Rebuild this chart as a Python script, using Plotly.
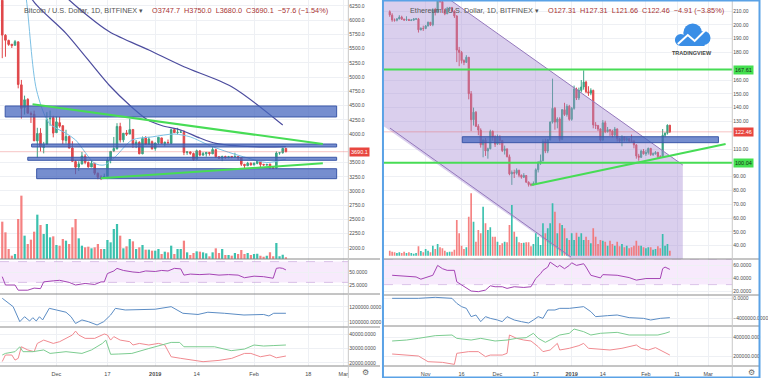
import plotly.graph_objects as go
import pandas as pd

# ======================= BTC (left chart) =======================
btc_start = "2018-11-14"
btc_open = [6351, 5736, 5645, 5578, 5559, 5620, 4864, 4465, 4611, 4360, 4347, 3880, 4016, 3765, 3822, 4269, 4289,
            4024, 4200, 4147, 3886, 3958, 3754, 3516, 3421, 3474, 3612, 3501, 3421, 3488, 3311, 3244, 3236, 3253, 3544,
            3706, 3742, 4133, 3898, 4020, 4000, 4081, 3819, 3855, 3653, 3932, 3822, 3866,
            3746, 3849, 3932, 3832, 3851, 3836, 4078, 4029, 4032, 4032, 3674, 3686, 3658, 3557, 3704, 3631, 3652, 3677,
            3652, 3725, 3600, 3575, 3605, 3584, 3607, 3599, 3604, 3584, 3468, 3443, 3485,
            3460, 3484, 3516, 3467, 3454, 3474, 3414, 3402, 3671, 3673, 3747.7]
btc_high = [6371, 5755, 5657, 5578, 5653, 5620, 4951, 4675, 4629, 4396, 4413, 4110, 4103, 3862, 4385, 4413, 4322,
            4309, 4301, 4147, 4075, 3969, 3874, 3542, 3522, 3685, 3647, 3518, 3534, 3488, 3325, 3276, 3305, 3597, 3701,
            3949, 4191, 4198, 4014, 4070, 4271, 4081, 3894, 3874, 3957, 3964, 3950, 3887,
            3851, 3948, 3935, 3866, 3904, 4093, 4092, 4109, 4071, 4068, 3700, 3694, 3675, 3727, 3721, 3685, 3684, 3683,
            3769, 3743, 3609, 3621, 3620, 3616, 3612, 3671, 3612, 3587, 3476, 3511, 3504,
            3502, 3523, 3517, 3476, 3478, 3474, 3427, 3695, 3679, 3760, 3750.0]
btc_low = [5333, 5358, 5550, 5512, 5559, 4803, 4272, 4343, 4365, 4195, 3881, 3585, 3696, 3661, 3822, 4145, 3942,
           4024, 4110, 3824, 3831, 3753, 3521, 3295, 3351, 3468, 3470, 3409, 3421, 3280, 3206, 3192, 3233, 3253, 3487,
           3687, 3728, 3850, 3855, 3966, 4000, 3757, 3753, 3645, 3646, 3815, 3808, 3726,
           3707, 3817, 3826, 3784, 3836, 3826, 4020, 3996, 4022, 3629, 3634, 3635, 3531, 3550, 3610, 3616, 3603, 3621,
           3652, 3582, 3570, 3524, 3566, 3576, 3575, 3596, 3544, 3439, 3401, 3441, 3447,
           3448, 3468, 3412, 3442, 3454, 3383, 3398, 3391, 3637, 3655, 3680.0]
btc_close = [5738, 5648, 5575, 5554, 5623, 4871, 4452, 4602, 4366, 4347, 3881, 4009, 3780, 3820, 4257, 4278, 4017,
             4214, 4139, 3894, 3956, 3753, 3521, 3419, 3476, 3614, 3502, 3424, 3486, 3313, 3242, 3236, 3252, 3545, 3696,
             3745, 4134, 3896, 4014, 3998, 4078, 3815, 3857, 3654, 3923, 3821, 3913, 3742,
             3843, 3943, 3836, 3857, 3845, 4076, 4025, 4030, 4035, 3678, 3687, 3661, 3552, 3706, 3630, 3655, 3678, 3658,
             3728, 3601, 3576, 3604, 3585, 3600, 3599, 3602, 3583, 3470, 3448, 3486, 3457,
             3487, 3521, 3464, 3459, 3466, 3413, 3400, 3667, 3671, 3747.7, 3690.1]
btc_volume = [112, 80, 30, 10, 15, 120, 190, 70, 45, 58, 82, 133, 102, 75, 105, 65, 68, 42, 40, 60,
              55, 45, 95, 120, 62, 40, 35, 37, 32, 35, 45, 30, 30, 57, 50, 90, 105, 70, 32, 38,
              60, 53, 30, 35, 42, 28, 28, 25, 25, 30, 15, 22, 20, 40, 15, 30, 30, 55, 20, 12,
              18, 23, 22, 20, 17, 8, 20, 32, 18, 30, 12, 12, 10, 18, 15, 27, 15, 18, 12, 15,
              16, 10, 7, 10, 20, 8, 48, 8, 13, 5]

btc_ma_fast_dates = ["2018-11-20", "2018-11-21 14:00", "2018-11-24 18:00", "2018-11-28 18:00", "2018-12-04",
                     "2018-12-07", "2018-12-13", "2018-12-16", "2018-12-19 12:00", "2018-12-24 18:00", "2018-12-31",
                     "2019-01-07", "2019-01-12", "2019-01-18", "2019-01-24", "2019-01-30", "2019-02-05", "2019-02-11"]
btc_ma_fast = [6900, 6355, 4774, 4189, 4013, 3896, 3486, 3457, 3603, 3896, 3950, 4000, 3950, 3800, 3680, 3580, 3500, 3560]
btc_ma_mid_dates = ["2018-11-20", "2018-11-23 12:00", "2018-12-04", "2018-12-17 12:00", "2018-12-24 12:00",
                    "2018-12-29 14:00", "2019-01-03", "2019-01-09", "2019-01-15", "2019-01-20", "2019-02-01", "2019-02-11"]
btc_ma_mid = [6900, 6355, 5770, 4862, 4480, 4250, 4150, 4071, 3930, 3837, 3778, 3778]
btc_ma_slow_dates = ["2018-11-30", "2018-12-05", "2018-12-17 12:00", "2018-12-30", "2019-01-10", "2019-01-25", "2019-02-10"]
btc_ma_slow = [6650, 6355, 5800, 5477, 5183, 4832, 4159]

btc_rsi_dates = ["2018-11-14", "2018-11-15", "2018-11-18", "2018-11-19", "2018-11-22", "2018-11-24", "2018-11-26",
                 "2018-11-27", "2018-11-30", "2018-12-02", "2018-12-05", "2018-12-07", "2018-12-10", "2018-12-13",
                 "2018-12-15", "2018-12-16", "2018-12-17", "2018-12-19", "2018-12-20", "2018-12-22", "2018-12-25",
                 "2018-12-27", "2018-12-29", "2019-01-01", "2019-01-03", "2019-01-05", "2019-01-07", "2019-01-09",
                 "2019-01-10", "2019-01-12", "2019-01-15", "2019-01-18", "2019-01-21", "2019-01-24", "2019-01-27",
                 "2019-01-29", "2019-02-01", "2019-02-04", "2019-02-07", "2019-02-08", "2019-02-09", "2019-02-10",
                 "2019-02-11"]
btc_rsi = [41, 25, 25, 15, 15, 19, 18, 31, 33, 34, 30, 25, 28, 26, 31, 31, 47, 52, 57, 53, 50, 49, 52, 51, 53, 52,
           57, 56, 44, 46, 45, 46, 44, 45, 44, 39, 42, 41, 38, 57, 58, 57, 54]

btc_ind2_dates = ["2018-11-14", "2018-11-17 10:00", "2018-11-19 12:00", "2018-11-21", "2018-11-22 14:00",
                  "2018-11-23 14:00", "2018-11-24 16:00", "2018-11-25 16:00", "2018-11-26 16:00", "2018-11-28 18:00",
                  "2018-12-01", "2018-12-04", "2018-12-05 14:00", "2018-12-07", "2018-12-09", "2018-12-11",
                  "2018-12-13 18:00", "2018-12-15 20:00", "2018-12-18", "2018-12-19 12:00", "2018-12-22 14:00",
                  "2018-12-26 18:00", "2019-01-01", "2019-01-06", "2019-01-09 16:00", "2019-01-14 10:00",
                  "2019-01-17 12:00", "2019-01-22 16:00", "2019-01-28 20:00", "2019-02-04", "2019-02-05 16:00",
                  "2019-02-07 04:00", "2019-02-11"]
btc_ind2 = [1316000, 1204000, 1004000, 1070000, 1013000, 1057000, 1013000, 1070000, 1027000, 1182000,
            1160000, 1130000, 1070000, 980000, 1027000, 1004000, 960000, 1004000, 1093000, 1182000, 1160000,
            1160000, 1170000, 1204000, 1116000, 1100000, 1130000, 1116000, 1093000, 1100000, 1080000, 1116000, 1116000]

btc_ind3_red_dates = ["2018-11-14", "2018-11-15", "2018-11-17", "2018-11-18", "2018-11-19", "2018-11-20", "2018-11-22",
                      "2018-11-24", "2018-11-25", "2018-11-27", "2018-11-30", "2018-12-02", "2018-12-04", "2018-12-06",
                      "2018-12-07", "2018-12-08", "2018-12-10", "2018-12-13", "2018-12-16", "2018-12-17", "2018-12-18",
                      "2018-12-19", "2018-12-21", "2018-12-24", "2018-12-25", "2018-12-27", "2018-12-30", "2019-01-02",
                      "2019-01-04", "2019-01-05", "2019-01-06", "2019-01-09", "2019-01-13", "2019-01-16", "2019-01-21",
                      "2019-01-25", "2019-01-29", "2019-01-31", "2019-02-03", "2019-02-06", "2019-02-08", "2019-02-11"]
btc_ind3_red = [21000, 25500, 25500, 22000, 23200, 31200, 29000, 27800, 33500, 35800, 33500, 34700, 37000, 39300,
                42000, 39300, 37000, 37000, 40000, 39300, 35800, 38200, 35800, 34700, 32400, 33500, 32400, 33500,
                32400, 27800, 24300, 23200, 22000, 20900, 21800, 23200, 26600, 26600, 24300, 25500, 23600, 24800]
btc_ind3_green_dates = ["2018-11-14", "2018-11-15", "2018-11-18", "2018-11-19 12:00", "2018-11-20 12:00", "2018-11-23 14:00",
                        "2018-11-27", "2018-11-29", "2018-12-04", "2018-12-09", "2018-12-12", "2018-12-15 10:00",
                        "2018-12-16 12:00", "2018-12-18", "2018-12-20 14:00", "2018-12-24 16:00", "2018-12-30",
                        "2019-01-05", "2019-01-06", "2019-01-08 16:00", "2019-01-10", "2019-01-14 10:00",
                        "2019-01-19 14:00", "2019-01-24 20:00", "2019-01-29", "2019-02-01", "2019-02-04",
                        "2019-02-07", "2019-02-11"]
btc_ind3_green = [25500, 26600, 27800, 31200, 27800, 27800, 29000, 26600, 27800, 26600, 29000, 33500, 35800, 26000,
                  26200, 26600, 30000, 33500, 34200, 34200, 31200, 31200, 31200, 28500, 29600, 32400, 31700, 32000, 32400]

btc_zones = [("2018-11-14 22:00", "2019-02-26 22:00", 4300, 4493),
             ("2018-11-23 05:00", "2019-02-26 22:00", 3773, 3825),
             ("2018-11-22 00:00", "2019-02-26 22:00", 3539, 3592),
             ("2018-11-24 19:00", "2019-02-26 22:00", 3216, 3391)]
btc_trend_lines = [("2018-11-23 12:00", 4523, "2019-02-22 14:00", 3825),
                   ("2018-12-14 22:00", 3223, "2019-02-22 14:00", 3486)]

btc_price_ticks = [2000, 2250, 2500, 2750, 3000, 3250, 3500, 4000, 4250, 4500, 4750, 5000, 5250, 5500, 5750, 6000, 6250]
btc_xticks = ["2018-12-01", "2018-12-17", "2019-01-01", "2019-01-14", "2019-02-01", "2019-02-18", "2019-03-01"]
btc_xtext = ["Dec", "17", "<b>2019</b>", "14", "Feb", "18", "Mar"]

# ======================= ETH (right chart) =======================
eth_start = "2018-10-17"
eth_open = [209.5, 207.0, 203.5, 203.3, 204.3, 205.6, 204.1, 203.6, 203.8, 203.2, 203.4, 204.2, 204.3, 196.4, 197.4,
            197.3, 199.2, 201.9, 200.0, 211.0, 209.4, 218.8, 216.9, 211.0, 208.0, 211.6, 212.5, 210.0, 206.4, 181.7,
            180.0, 174.1, 172.8, 176.5, 150.1, 131.2, 136.7, 126.5, 123.7, 113.1, 116.4, 108.6, 110.2, 122.8, 118.6,
            113.5, 118.6, 116.2, 108.9, 110.1, 104.4, 92.0, 93.0, 92.5, 94.6, 91.0, 89.6, 90.8, 86.0, 84.3, 84.0,
            85.0, 95.0, 100.5, 101.5, 115.5, 108.5, 116.8, 129.5, 139.5, 129.5, 131.8, 117.0, 138.5, 135.0, 141.0,
            131.5, 139.5, 153.5, 147.0, 152.5, 155.0, 158.5, 151.5, 150.5, 152.5, 127.5, 127.0, 124.5, 116.5, 129.0,
            122.5, 124.0, 123.0, 120.0, 124.5, 117.5, 116.0, 118.5, 116.5, 117.5, 116.0, 115.5, 113.0, 105.0, 104.0,
            108.5, 106.5, 107.5, 110.5, 106.0, 106.5, 107.5, 104.5, 104.0, 120.0, 121.5, 127.31]
eth_high = [210.5, 208.4, 204.6, 204.8, 207.0, 206.6, 204.4, 206.2, 204.4, 204.1, 204.9, 205.0, 205.0, 198.2, 199.4,
            199.9, 202.3, 202.0, 212.0, 212.3, 220.0, 222.0, 217.0, 211.0, 213.0, 213.0, 213.0, 210.5, 207.0, 184.0,
            181.0, 175.0, 178.0, 176.7, 152.0, 140.0, 137.5, 128.0, 125.0, 117.0, 118.0, 111.0, 124.0, 123.5, 120.0,
            120.5, 120.0, 116.5, 112.5, 110.5, 106.0, 94.5, 95.0, 96.0, 95.0, 91.5, 92.5, 91.0, 86.5, 85.5, 86.5,
            96.0, 101.0, 106.0, 117.0, 117.5, 117.0, 130.0, 161.0, 140.5, 133.0, 133.0, 139.0, 143.5, 142.5, 142.0,
            140.5, 156.0, 154.5, 154.5, 160.0, 167.0, 159.5, 155.5, 154.0, 153.0, 129.5, 127.5, 125.0, 131.0, 130.5,
            126.0, 124.5, 124.0, 126.0, 125.0, 118.0, 120.0, 119.0, 118.5, 118.0, 120.5, 116.5, 113.5, 106.5, 109.5,
            110.0, 109.5, 111.0, 110.5, 107.5, 108.5, 108.0, 105.5, 124.5, 122.0, 127.8, 127.31]
eth_low = [205.8, 202.2, 202.3, 202.5, 204.0, 203.5, 202.8, 202.8, 202.8, 202.7, 203.0, 203.6, 194.4, 196.0, 195.6,
           196.9, 198.9, 199.2, 199.0, 206.8, 208.5, 216.0, 208.6, 207.0, 207.8, 210.0, 209.0, 205.0, 173.0, 170.0,
           172.0, 170.8, 172.5, 146.0, 123.0, 127.0, 126.0, 120.0, 111.0, 104.0, 105.0, 103.0, 109.8, 116.0, 111.5,
           113.0, 113.0, 107.8, 106.0, 104.0, 91.0, 84.0, 89.0, 91.5, 89.5, 88.5, 89.0, 85.5, 82.8, 83.0, 83.8,
           84.5, 93.0, 98.5, 101.0, 107.0, 107.0, 116.0, 128.5, 124.0, 125.0, 115.5, 116.5, 134.0, 133.5, 130.5,
           130.5, 138.5, 145.5, 145.5, 151.0, 153.0, 150.5, 148.5, 149.0, 125.0, 124.5, 123.0, 115.5, 116.0, 121.5,
           122.0, 119.5, 118.5, 119.5, 115.5, 114.5, 112.0, 115.5, 115.5, 115.0, 115.5, 110.5, 103.0, 101.5, 103.5,
           106.0, 105.0, 106.0, 105.0, 105.0, 106.0, 103.5, 103.5, 103.5, 118.5, 120.5, 121.66]
eth_close = [207.2, 203.5, 203.3, 204.3, 205.6, 204.1, 203.6, 203.8, 203.2, 203.4, 204.2, 204.3, 196.4, 197.4, 197.3,
             199.2, 201.9, 200.0, 211.0, 209.4, 218.8, 216.9, 211.0, 208.0, 211.6, 212.5, 210.0, 206.4, 181.7, 180.0,
             174.1, 172.8, 176.5, 150.1, 131.2, 136.7, 126.5, 123.7, 113.1, 116.4, 108.6, 110.2, 122.8, 118.6, 113.5,
             118.6, 116.2, 108.9, 110.1, 104.4, 92.0, 93.0, 92.5, 94.6, 91.0, 89.6, 90.8, 86.0, 84.3, 84.0, 85.0,
             95.0, 100.5, 101.5, 115.5, 108.5, 116.8, 129.5, 139.5, 129.5, 131.8, 117.0, 138.5, 135.0, 141.0, 131.5,
             139.5, 153.5, 147.0, 152.5, 155.0, 158.5, 151.5, 150.5, 152.5, 127.5, 127.0, 124.5, 116.5, 129.0, 122.5,
             124.0, 123.0, 120.0, 124.5, 117.5, 116.0, 118.5, 116.5, 117.5, 116.0, 115.5, 113.0, 105.0, 104.0, 108.5,
             106.5, 107.5, 110.5, 106.0, 106.5, 107.5, 104.5, 104.0, 120.0, 121.5, 127.31, 122.46]
eth_volume = [15, 12, 10, 8, 10, 8, 12, 8, 10, 8, 6, 8, 28, 14, 10,
              20, 15, 10, 30, 20, 35, 25, 22, 15, 10, 12, 12, 18, 107, 67, 30, 20, 25, 117, 187, 102, 42, 77, 67,
              147, 97, 77, 85, 57, 57,
              42, 32, 37, 42, 40, 92, 152, 72, 57, 40, 38, 39, 40, 40, 28, 35, 67, 57, 32, 97, 67, 82, 97, 157, 132,
              67, 97, 92, 82, 52, 47,
              67, 47, 69, 57, 67, 47, 57, 47, 37, 82, 57, 35, 47, 45, 42, 30, 45, 35, 30, 42, 28, 35, 25, 30, 22, 25,
              30, 45, 30, 30, 25,
              22, 25, 25, 18, 20, 28, 22, 65, 30, 35, 15]

eth_rsi_dates = ["2018-10-18", "2018-10-24", "2018-10-28", "2018-10-30", "2018-11-02", "2018-11-04", "2018-11-06",
                 "2018-11-08", "2018-11-10", "2018-11-13", "2018-11-14", "2018-11-16", "2018-11-18", "2018-11-20",
                 "2018-11-23", "2018-11-26", "2018-11-28", "2018-11-30", "2018-12-03", "2018-12-05", "2018-12-08",
                 "2018-12-12", "2018-12-15", "2018-12-17", "2018-12-19", "2018-12-20", "2018-12-22", "2018-12-23",
                 "2018-12-26", "2018-12-27", "2018-12-29", "2018-12-31", "2019-01-01", "2019-01-03", "2019-01-06",
                 "2019-01-07", "2019-01-09", "2019-01-13", "2019-01-14", "2019-01-20", "2019-01-25", "2019-01-28",
                 "2019-02-01", "2019-02-04", "2019-02-07", "2019-02-08", "2019-02-09", "2019-02-11"]
eth_rsi = [44.6, 43.6, 42, 38.5, 42, 44.6, 60, 54.9, 52.3, 52.3, 34.4, 29.2, 24.1, 20, 19, 21.5, 28.2, 26.7, 26.7,
           24.1, 26.7, 25.6, 26.7, 39.5, 47.2, 52.3, 57.4, 65.1, 57.4, 60, 54.9, 60, 64.1, 60, 62.6, 57.4, 44.6, 40.5,
           45.6, 44.6, 41, 37, 39.5, 39.5, 39.5, 54.9, 57.4, 53.8]

eth_ind2_dates = ["2018-10-18", "2018-10-29", "2018-11-05", "2018-11-12", "2018-11-14", "2018-11-16", "2018-11-18",
                  "2018-11-20", "2018-11-22", "2018-11-24", "2018-11-26", "2018-11-28", "2018-12-01", "2018-12-03",
                  "2018-12-05", "2018-12-08", "2018-12-11", "2018-12-14", "2018-12-16", "2018-12-18", "2018-12-20",
                  "2018-12-22", "2018-12-25", "2018-12-27", "2018-12-31", "2019-01-03", "2019-01-06", "2019-01-09",
                  "2019-01-11", "2019-01-16", "2019-01-20", "2019-01-25", "2019-01-31", "2019-02-03", "2019-02-07",
                  "2019-02-11"]
eth_ind2 = [-67e3, -67e3, 133e3, -67e3, -1.07e6, -1.73e6, -2.07e6, -3.73e6, -3.4e6, -4.73e6, -3.73e6, -4.07e6,
            -4.4e6, -4.73e6, -3.73e6, -4.4e6, -4.73e6, -5.0e6, -4.4e6, -3.73e6, -4.07e6, -2.4e6, -2.4e6, -2.07e6,
            -2.07e6, -1.93e6, -1.73e6, -2.73e6, -3.73e6, -3.53e6, -3.4e6, -3.93e6, -4.07e6, -4.4e6, -4.07e6, -3.93e6]

eth_ind3_green_dates = ["2018-10-18", "2018-10-24", "2018-10-29", "2018-11-05", "2018-11-12", "2018-11-14",
                        "2018-11-20", "2018-11-24", "2018-11-30", "2018-12-05", "2018-12-09", "2018-12-13",
                        "2018-12-16", "2018-12-18", "2018-12-21", "2018-12-23", "2018-12-27", "2018-12-31",
                        "2019-01-02", "2019-01-06", "2019-01-09", "2019-01-13", "2019-01-17", "2019-01-20",
                        "2019-01-25", "2019-01-31", "2019-02-06", "2019-02-09", "2019-02-11"]
eth_ind3_green = [358e3, 368e3, 386e3, 414e3, 421e3, 386e3, 368e3, 386e3, 358e3, 368e3, 386e3, 393e3, 439e3, 386e3,
                  344e3, 368e3, 421e3, 439e3, 484e3, 456e3, 421e3, 439e3, 449e3, 449e3, 421e3, 421e3, 421e3, 439e3, 456e3]
eth_ind3_red_dates = ["2018-10-18", "2018-10-24", "2018-10-29", "2018-11-02", "2018-11-08", "2018-11-13", "2018-11-14",
                      "2018-11-19", "2018-11-23", "2018-11-26", "2018-11-28", "2018-12-03", "2018-12-05", "2018-12-06",
                      "2018-12-09", "2018-12-12", "2018-12-15", "2018-12-18", "2018-12-20", "2018-12-23", "2018-12-26",
                      "2018-12-27", "2018-12-31", "2019-01-04", "2019-01-06", "2019-01-08", "2019-01-13", "2019-01-17",
                      "2019-01-22", "2019-01-28", "2019-01-30", "2019-02-02", "2019-02-05", "2019-02-08", "2019-02-11"]
eth_ind3_red = [221e3, 210e3, 200e3, 140e3, 133e3, 112e3, 228e3, 246e3, 246e3, 193e3, 210e3, 210e3, 228e3, 421e3,
                386e3, 368e3, 358e3, 298e3, 246e3, 263e3, 333e3, 263e3, 281e3, 309e3, 333e3, 281e3, 274e3, 263e3,
                281e3, 316e3, 281e3, 263e3, 288e3, 246e3, 210e3]

eth_channel_upper = ("2018-11-11 07:00", 218.0, "2019-02-16 10:00", 98.4)
eth_channel_lower = ("2018-10-17 02:00", 125.2, "2018-12-31 17:00", 31.7)
eth_channel_fill_x = ["2018-10-13", "2018-11-11 07:00", "2019-02-16 10:00", "2019-02-16 10:00", "2018-12-31 17:00", "2018-10-13"]
eth_channel_fill_y = [218.5, 218.0, 98.4, 30.3, 30.3, 128.3]
eth_zone = ("2018-11-16 07:00", "2019-03-03 07:00", 114.6, 118.9)
eth_levels = [167.61, 100.04]
eth_trend = ("2018-12-15 05:00", 83.9, "2019-03-06 07:00", 113.6)

eth_price_ticks = [40, 50, 60, 70, 80, 90, 110, 130, 140, 150, 160, 180, 190, 200, 210]
eth_xticks = ["2018-11-01", "2018-11-16", "2018-12-01", "2018-12-17", "2019-01-01", "2019-01-14", "2019-02-01",
              "2019-02-14", "2019-02-27"]
eth_xtext = ["Nov", "16", "Dec", "17", "<b>2019</b>", "14", "Feb", "11", "Mar"]

# ======================= figure =======================
btc_dates = pd.date_range(btc_start, periods=len(btc_close), freq="D")
eth_dates = pd.date_range(eth_start, periods=len(eth_close), freq="D")

UP, DN = "#3aa384", "#e0474a"
VUP, VDN = "rgba(38,186,165,0.9)", "rgba(244,112,112,0.88)"
MA = "#4c4c9e"
GREEN = "#47dc55"
GRID = "#eef0f4"
AX = dict(family="Arial", size=5, color="#4a4a4a")


def px(x):
    return x / 768.0


def py(y):
    return (366.0 - y) / 366.0


fig = go.Figure()

# ---- left ----
fig.add_trace(go.Candlestick(x=btc_dates, open=btc_open, high=btc_high, low=btc_low, close=btc_close,
                             xaxis="x", yaxis="y",
                             increasing=dict(line=dict(color=UP, width=1), fillcolor=UP),
                             decreasing=dict(line=dict(color=DN, width=1), fillcolor=DN),
                             whiskerwidth=0, hoverinfo="skip"))
for d, v, c, w in [(btc_ma_slow_dates, btc_ma_slow, MA, 1.2), (btc_ma_mid_dates, btc_ma_mid, MA, 1.2),
                   (btc_ma_fast_dates, btc_ma_fast, "#7cc0e4", 1.0)]:
    fig.add_trace(go.Scatter(x=d, y=v, mode="lines", line=dict(color=c, width=w, shape="spline", smoothing=0.8),
                             xaxis="x", yaxis="y", hoverinfo="skip"))
fig.add_trace(go.Bar(x=btc_dates, y=btc_volume, xaxis="x", yaxis="y9",
                     marker=dict(color=[VUP if c >= o else VDN for o, c in zip(btc_open, btc_close)], line=dict(width=0)),
                     hoverinfo="skip"))
fig.add_trace(go.Scatter(x=btc_rsi_dates, y=btc_rsi, mode="lines", line=dict(color="#a444b4", width=1),
                         xaxis="x", yaxis="y2"))
fig.add_trace(go.Scatter(x=btc_ind2_dates, y=btc_ind2, mode="lines", line=dict(color="#5b8cc4", width=1),
                         xaxis="x", yaxis="y3"))
fig.add_trace(go.Scatter(x=btc_ind3_red_dates, y=btc_ind3_red, mode="lines", line=dict(color="#f08a90", width=1),
                         xaxis="x", yaxis="y4"))
fig.add_trace(go.Scatter(x=btc_ind3_green_dates, y=btc_ind3_green, mode="lines", line=dict(color="#7ccc90", width=1),
                         xaxis="x", yaxis="y4"))

# ---- right ----
fig.add_trace(go.Scatter(x=eth_channel_fill_x, y=eth_channel_fill_y, mode="lines", fill="toself",
                         fillcolor="rgba(168,140,212,0.42)", line=dict(width=0), xaxis="x2", yaxis="y5",
                         hoverinfo="skip"))
fig.add_trace(go.Candlestick(x=eth_dates, open=eth_open, high=eth_high, low=eth_low, close=eth_close,
                             xaxis="x2", yaxis="y5",
                             increasing=dict(line=dict(color=UP, width=1), fillcolor=UP),
                             decreasing=dict(line=dict(color=DN, width=1), fillcolor=DN),
                             whiskerwidth=0, hoverinfo="skip"))
fig.add_trace(go.Bar(x=eth_dates, y=eth_volume, xaxis="x2", yaxis="y10",
                     marker=dict(color=[VUP if c >= o else VDN for o, c in zip(eth_open, eth_close)], line=dict(width=0)),
                     hoverinfo="skip"))
fig.add_trace(go.Scatter(x=eth_rsi_dates, y=eth_rsi, mode="lines", line=dict(color="#a444b4", width=1),
                         xaxis="x2", yaxis="y6"))
fig.add_trace(go.Scatter(x=eth_ind2_dates, y=eth_ind2, mode="lines", line=dict(color="#5b8cc4", width=1),
                         xaxis="x2", yaxis="y7"))
fig.add_trace(go.Scatter(x=eth_ind3_red_dates, y=eth_ind3_red, mode="lines", line=dict(color="#f08a90", width=1),
                         xaxis="x2", yaxis="y8"))
fig.add_trace(go.Scatter(x=eth_ind3_green_dates, y=eth_ind3_green, mode="lines", line=dict(color="#7ccc90", width=1),
                         xaxis="x2", yaxis="y8"))


def xax(domain, anchor, rng, tv, tt):
    return dict(domain=domain, anchor=anchor, type="date", range=rng, tickvals=tv, ticktext=tt,
                showgrid=True, gridcolor=GRID, gridwidth=1, zeroline=False, showline=False, ticks="",
                tickfont=dict(family="Arial", size=5.5, color="#4a4a4a"), rangeslider=dict(visible=False),
                ticklabelstandoff=3, fixedrange=True)


def yax(domain, anchor, rng, **kw):
    d = dict(domain=domain, anchor=anchor, range=rng, side="right", showgrid=True, gridcolor=GRID,
             zeroline=False, showline=False, ticks="", tickfont=AX, fixedrange=True)
    d.update(kw)
    return d


fig.update_layout(
    width=768, height=378, margin=dict(l=0, r=0, t=0, b=12),
    paper_bgcolor="white", plot_bgcolor="white", showlegend=False, bargap=0.3,
    xaxis=xax([0, px(352)], "y4", ["2018-11-13 07:00", "2019-03-02 14:00"], btc_xticks, btc_xtext),
    xaxis2=xax([px(388), px(740)], "y8", ["2018-10-14 14:00", "2019-03-09 02:00"], eth_xticks, eth_xtext),
    yaxis=yax([py(259), 1], "x", [1805, 6355], tickvals=btc_price_ticks, tickformat=".1f"),
    yaxis9=yax([py(259), 1], "x", [0, 777], overlaying="y", visible=False, showgrid=False),
    yaxis2=yax([py(294), py(259)], "x", [7.7, 75], tickvals=[25, 50], tickformat=".4f"),
    yaxis3=yax([py(327), py(294)], "x", [933000, 1373000], tickvals=[1000000, 1200000], tickformat=".4f"),
    yaxis4=yax([0, py(327)], "x", [17920, 44830], tickvals=[20000, 30000, 40000], tickformat=".4f"),
    yaxis5=yax([py(259), 1], "x2", [30.3, 218], tickvals=eth_price_ticks, tickformat=".2f"),
    yaxis10=yax([py(259), 1], "x2", [-10, 767], overlaying="y5", visible=False, showgrid=False),
    yaxis6=yax([py(295), py(259)], "x2", [13.8, 70], tickvals=[20, 40, 60], tickformat=".4f"),
    yaxis7=yax([py(326), py(295)], "x2", [-5.6e6, 0.6e6], tickvals=[0, -4000000], tickformat=".4f"),
    yaxis8=yax([0, py(326)], "x2", [94700, 515800], tickvals=[200000, 400000], tickformat=".3f"),
)

shapes = []
for xr, yr in [("x domain", "y2"), ("x2 domain", "y6")]:
    shapes.append(dict(type="rect", xref=xr, yref=yr, x0=0, x1=1, y0=30, y1=70,
                       fillcolor="rgba(214,150,240,0.2)", line=dict(width=0), layer="below"))
    for lv in (30, 70):
        shapes.append(dict(type="line", xref=xr, yref=yr, x0=0, x1=1, y0=lv, y1=lv,
                           line=dict(color="rgba(170,120,200,0.5)", width=0.8, dash="dash")))
shapes.append(dict(type="line", xref="x domain", yref="y", x0=0, x1=1, y0=btc_close[-1], y1=btc_close[-1],
                   line=dict(color="rgba(230,90,90,0.45)", width=0.8)))
shapes.append(dict(type="line", xref="x2 domain", yref="y5", x0=0, x1=1, y0=eth_close[-1], y1=eth_close[-1],
                   line=dict(color="rgba(230,90,90,0.45)", width=0.8)))
for x0, x1, y0, y1 in btc_zones:
    shapes.append(dict(type="rect", xref="x", yref="y", x0=x0, x1=x1, y0=y0, y1=y1,
                       fillcolor="rgba(70,102,190,0.74)", line=dict(color="#3c58a8", width=1), layer="above"))
for x0, y0, x1, y1 in btc_trend_lines:
    shapes.append(dict(type="line", xref="x", yref="y", x0=x0, y0=y0, x1=x1, y1=y1,
                       line=dict(color=GREEN, width=2)))
for x0, y0, x1, y1 in [eth_channel_upper, eth_channel_lower]:
    shapes.append(dict(type="line", xref="x2", yref="y5", x0=x0, y0=y0, x1=x1, y1=y1,
                       line=dict(color="#9478bc", width=1)))
shapes.append(dict(type="rect", xref="x2", yref="y5", x0=eth_zone[0], x1=eth_zone[1], y0=eth_zone[2], y1=eth_zone[3],
                   fillcolor="rgba(70,102,190,0.74)", line=dict(color="#3c58a8", width=1), layer="above"))
for lv in eth_levels:
    shapes.append(dict(type="line", xref="x2 domain", yref="y5", x0=0, x1=1, y0=lv, y1=lv,
                       line=dict(color=GREEN, width=2)))
shapes.append(dict(type="line", xref="x2", yref="y5", x0=eth_trend[0], y0=eth_trend[1], x1=eth_trend[2], y1=eth_trend[3],
                   line=dict(color=GREEN, width=2)))
for yy in (259, 294, 327, 366):
    shapes.append(dict(type="line", xref="paper", yref="paper", x0=0, x1=px(384), y0=py(yy), y1=py(yy),
                       line=dict(color="#8a8a8a", width=1)))
for yy in (259, 295, 326, 366):
    shapes.append(dict(type="line", xref="paper", yref="paper", x0=px(388), x1=1, y0=py(yy), y1=py(yy),
                       line=dict(color="#8a8a8a", width=1)))
shapes.append(dict(type="line", xref="paper", yref="paper", x0=px(352), x1=px(352), y0=py(378), y1=1,
                   line=dict(color="#c8c8c8", width=1)))
shapes.append(dict(type="line", xref="paper", yref="paper", x0=px(740), x1=px(740), y0=py(378), y1=1,
                   line=dict(color="#c8c8c8", width=1)))
shapes.append(dict(type="rect", xref="paper", yref="paper", x0=px(387), x1=px(767.5), y0=py(377.5), y1=py(0.5),
                   line=dict(color="#5aa2e6", width=2), fillcolor="rgba(0,0,0,0)"))
LOGO = "#3a8ee6"
for cx, cy, r in [(688, 40, 6), (700, 33, 9.5), (711, 38, 7)]:
    shapes.append(dict(type="circle", xref="paper", yref="paper", x0=px(cx - r), x1=px(cx + r),
                       y0=py(cy + r), y1=py(cy - r), fillcolor=LOGO, line=dict(width=0)))
shapes.append(dict(type="rect", xref="paper", yref="paper", x0=px(688), x1=px(712), y0=py(46), y1=py(37),
                   fillcolor=LOGO, line=dict(width=0)))
pts = [(685, 44), (695, 35), (702, 41), (714, 29)]
path = "M " + " L ".join(f"{px(a):.5f},{py(b):.5f}" for a, b in pts)
shapes.append(dict(type="path", xref="paper", yref="paper", path=path, line=dict(color="white", width=2)))
fig.update_layout(shapes=shapes)

ann = []
ann.append(dict(xref="paper", yref="paper", x=px(22), y=py(10), xanchor="left", yanchor="middle", showarrow=False,
                text="Bitcoin / U.S. Dollar, 1D, BITFINEX ▾", font=dict(family="Arial", size=7.3, color="#555")))
ann.append(dict(xref="paper", yref="paper", x=px(152), y=py(10), xanchor="left", yanchor="middle", showarrow=False,
                text="O3747.7  H3750.0  L3680.0  C3690.1  −57.6 (−1.54%)",
                font=dict(family="Arial", size=7.3, color="#a83434")))
ann.append(dict(xref="paper", yref="paper", x=px(412), y=py(10), xanchor="left", yanchor="middle", showarrow=False,
                text="Ethereum / U.S. Dollar, 1D, BITFINEX ▾", font=dict(family="Arial", size=7.3, color="#555")))
ann.append(dict(xref="paper", yref="paper", x=px(552), y=py(10), xanchor="left", yanchor="middle", showarrow=False,
                text="O127.31  H127.31  L121.66  C122.46  −4.91 (−3.85%)",
                font=dict(family="Arial", size=7.3, color="#a83434")))
ann.append(dict(xref="paper", yref="y", x=px(353), y=btc_close[-1], xanchor="left", yanchor="middle", showarrow=False,
                text="3690.1", bgcolor="#e8463f", borderpad=1, font=dict(family="Arial", size=5.5, color="white")))
ann.append(dict(xref="paper", yref="y5", x=px(741), y=eth_close[-1], xanchor="left", yanchor="middle", showarrow=False,
                text="122.46", bgcolor="#e8463f", borderpad=1, font=dict(family="Arial", size=5.5, color="white")))
for lv in eth_levels:
    ann.append(dict(xref="paper", yref="y5", x=px(741), y=lv, xanchor="left", yanchor="middle", showarrow=False,
                    text=f"{lv:.2f}", bgcolor="#44e050", borderpad=1, font=dict(family="Arial", size=5.5, color="#1b2b1b")))
ann.append(dict(xref="paper", yref="paper", x=px(699), y=py(53), xanchor="center", yanchor="middle", showarrow=False,
                text="<b>TRADINGVIEW</b>", font=dict(family="Arial", size=5.5, color="#444")))
for gx in (369, 759):
    ann.append(dict(xref="paper", yref="paper", x=px(gx), y=py(372), xanchor="center", yanchor="middle",
                    showarrow=False, text="⚙", font=dict(family="DejaVu Sans", size=8, color="#666")))
fig.update_layout(annotations=ann)

fig.write_html("out.html", config={"displayModeBar": False},
               post_script="document.body.style.margin='0px';document.body.style.overflow='hidden';")
